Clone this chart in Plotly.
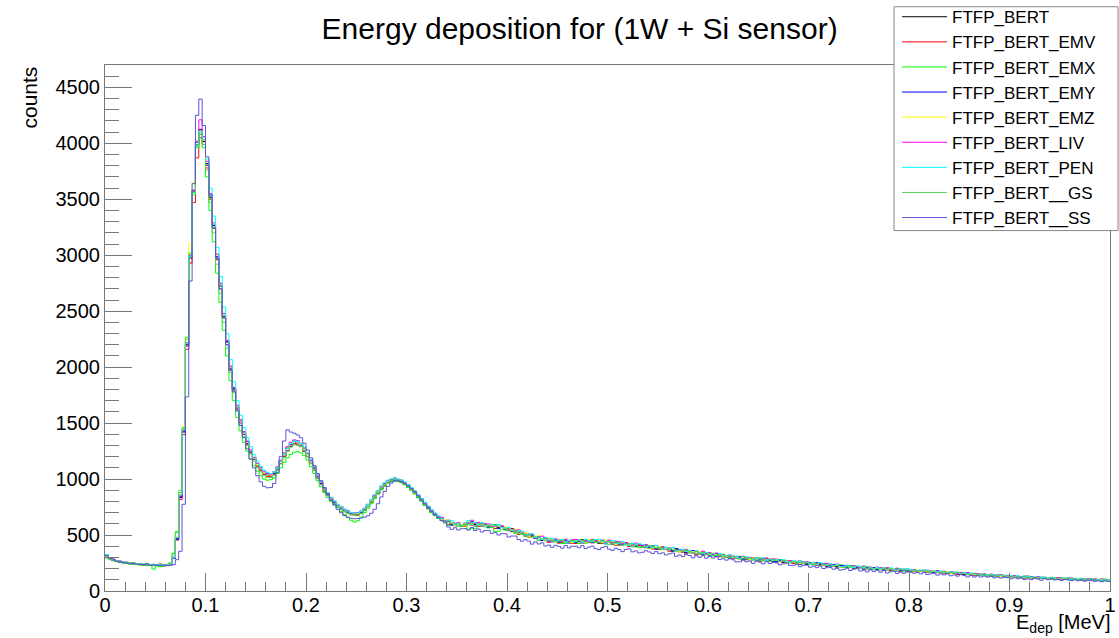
import numpy as np
import plotly.graph_objects as go

# histogram binning: 300 bins between 0 and 1 MeV
N_BINS = 300
E_MIN, E_MAX = 0.0, 1.0

# bin contents, 20 bins per row
FTFP_BERT = [
    316, 287, 284, 264, 266, 253, 257, 242, 251, 240, 246, 233, 243, 231, 238, 229, 240, 225, 236, 241,
    296, 468, 842, 1428, 2205, 2975, 3565, 3985, 4125, 4015, 3805, 3515, 3265, 2975, 2725, 2455, 2225, 1985, 1805, 1635,
    1528, 1398, 1335, 1232, 1192, 1110, 1098, 1041, 1052, 1018, 1062, 1083, 1166, 1202, 1281, 1292, 1341, 1306, 1312, 1249,
    1224, 1138, 1104, 1008, 972, 893, 871, 808, 801, 748, 752, 709, 716, 682, 694, 679, 713, 719, 772, 791,
    852, 869, 931, 939, 988, 979, 1009, 981, 990, 951, 947, 901, 893, 838, 824, 767, 754, 702, 693, 651,
    648, 619, 627, 594, 601, 604, 581, 581, 608, 618, 594, 582, 600, 590, 570, 590, 594, 567, 572, 550,
    558, 558, 526, 508, 523, 502, 508, 494, 469, 488, 459, 470, 442, 455, 459, 437, 446, 429, 450, 455,
    431, 449, 458, 438, 432, 454, 448, 425, 451, 435, 448, 423, 434, 413, 431, 421, 406, 425, 403, 413,
    395, 410, 392, 401, 374, 390, 392, 370, 376, 358, 379, 366, 348, 362, 346, 359, 335, 343, 347, 327,
    339, 322, 333, 308, 317, 318, 294, 308, 297, 309, 286, 280, 294, 297, 279, 285, 272, 291, 274, 281,
    266, 278, 257, 267, 271, 250, 257, 241, 258, 245, 254, 237, 252, 228, 238, 239, 221, 232, 221, 231,
    226, 210, 219, 224, 206, 208, 217, 197, 209, 210, 193, 202, 191, 204, 185, 193, 196, 182, 189, 176,
    179, 188, 172, 181, 186, 169, 175, 165, 178, 165, 172, 157, 169, 162, 152, 165, 151, 159, 149, 154,
    141, 149, 150, 136, 142, 131, 142, 132, 138, 125, 133, 135, 123, 127, 118, 127, 119, 125, 113, 120,
    121, 111, 119, 109, 113, 104, 113, 109, 102, 112, 102, 108, 97, 105, 106, 96, 101, 93, 102, 95,
]
FTFP_BERT_EMV = [
    300, 284, 272, 270, 255, 252, 248, 246, 240, 238, 236, 232, 234, 229, 231, 227, 230, 226, 228, 232,
    290, 455, 818, 1398, 2160, 2930, 3470, 3870, 4050, 3990, 3780, 3500, 3240, 2960, 2700, 2440, 2200, 1975, 1790, 1625,
    1500, 1400, 1310, 1235, 1175, 1115, 1075, 1045, 1025, 1020, 1040, 1085, 1140, 1205, 1255, 1295, 1315, 1310, 1290, 1255,
    1200, 1140, 1080, 1010, 950, 895, 855, 810, 780, 750, 730, 712, 698, 685, 678, 682, 695, 720, 752, 792,
    832, 872, 910, 942, 968, 985, 990, 985, 972, 955, 930, 905, 875, 842, 806, 772, 740, 706, 680, 654,
    649, 629, 592, 606, 583, 601, 589, 579, 608, 589, 607, 579, 590, 598, 577, 585, 558, 562, 580, 563,
    558, 533, 545, 509, 515, 510, 482, 488, 470, 482, 462, 467, 435, 452, 453, 427, 436, 453, 447, 427,
    425, 444, 431, 459, 449, 430, 440, 451, 424, 430, 448, 434, 409, 411, 428, 417, 398, 419, 396, 406,
    401, 387, 398, 375, 381, 371, 383, 372, 355, 353, 370, 350, 355, 332, 349, 340, 324, 341, 324, 333,
    321, 333, 322, 306, 323, 302, 310, 289, 300, 306, 278, 290, 278, 295, 287, 266, 287, 273, 286, 264,
    259, 268, 257, 267, 259, 246, 262, 244, 251, 238, 250, 245, 228, 244, 230, 223, 236, 227, 214, 225,
    226, 211, 218, 203, 216, 210, 195, 215, 195, 208, 194, 203, 182, 193, 183, 199, 190, 176, 193, 177,
    184, 174, 184, 174, 180, 167, 173, 166, 175, 169, 159, 168, 158, 165, 150, 157, 148, 158, 153, 141,
    144, 148, 137, 142, 135, 142, 138, 128, 136, 127, 135, 122, 127, 128, 117, 123, 117, 124, 113, 121,
    121, 113, 119, 108, 119, 103, 110, 114, 99, 111, 102, 112, 96, 104, 95, 109, 102, 90, 105, 93,
]
FTFP_BERT_EMX = [
    296, 280, 270, 262, 255, 250, 246, 242, 238, 236, 230, 235, 226, 228, 196, 222, 218, 224, 230, 248,
    339, 532, 880, 1449, 2268, 3020, 3540, 3960, 4080, 3960, 3700, 3400, 3120, 2840, 2580, 2330, 2100, 1880, 1700, 1550,
    1430, 1330, 1250, 1180, 1120, 1070, 1030, 1000, 990, 995, 1010, 1050, 1100, 1150, 1190, 1220, 1240, 1245, 1235, 1210,
    1170, 1110, 1050, 985, 930, 880, 835, 800, 770, 745, 712, 685, 655, 632, 616, 628, 660, 700, 740, 780,
    825, 868, 905, 938, 965, 980, 985, 980, 968, 950, 925, 898, 866, 832, 800, 765, 732, 700, 672, 648,
    640, 608, 589, 602, 603, 577, 578, 592, 551, 560, 556, 586, 576, 588, 564, 567, 531, 535, 567, 544,
    540, 542, 514, 530, 505, 488, 501, 501, 470, 452, 466, 470, 442, 446, 460, 435, 424, 449, 434, 451,
    437, 424, 452, 456, 437, 445, 432, 434, 453, 421, 439, 420, 439, 418, 407, 423, 408, 420, 396, 387,
    393, 402, 384, 402, 385, 377, 393, 372, 376, 357, 373, 373, 353, 345, 357, 345, 353, 328, 340, 326,
    337, 314, 325, 309, 328, 305, 295, 310, 297, 308, 280, 287, 299, 280, 290, 271, 290, 276, 267, 280,
    266, 277, 264, 254, 267, 260, 247, 262, 246, 241, 253, 240, 246, 229, 244, 231, 223, 234, 223, 232,
    226, 209, 226, 211, 202, 218, 207, 218, 197, 206, 192, 205, 185, 205, 191, 185, 198, 184, 191, 177,
    180, 187, 176, 183, 177, 183, 171, 173, 177, 164, 172, 163, 171, 160, 156, 163, 155, 160, 149, 153,
    153, 140, 153, 140, 133, 146, 136, 144, 127, 136, 127, 138, 123, 126, 133, 116, 127, 115, 122, 114,
    123, 112, 107, 118, 110, 118, 104, 112, 103, 113, 103, 98, 108, 101, 108, 96, 102, 93, 104, 95,
]
FTFP_BERT_EMY = [
    318, 294, 276, 272, 258, 256, 252, 248, 247, 240, 243, 237, 240, 232, 236, 230, 234, 228, 230, 235,
    292, 462, 835, 1420, 2190, 2990, 3580, 4010, 4110, 4030, 3820, 3530, 3270, 2990, 2740, 2470, 2230, 2000, 1810, 1650,
    1520, 1415, 1320, 1250, 1190, 1130, 1090, 1060, 1040, 1035, 1050, 1100, 1160, 1225, 1275, 1310, 1335, 1325, 1300, 1270,
    1220, 1155, 1095, 1025, 960, 910, 860, 825, 790, 765, 740, 725, 705, 695, 688, 692, 700, 730, 758, 805,
    842, 885, 915, 955, 972, 995, 992, 998, 975, 965, 935, 915, 880, 852, 810, 782, 742, 716, 682, 664,
    651, 621, 620, 588, 589, 606, 588, 586, 614, 604, 580, 588, 605, 597, 572, 578, 588, 560, 574, 553,
    540, 536, 548, 522, 523, 494, 492, 501, 470, 480, 451, 471, 449, 439, 451, 437, 460, 451, 428, 437,
    433, 447, 430, 453, 442, 435, 456, 436, 448, 423, 436, 420, 445, 421, 412, 431, 421, 397, 401, 415,
    408, 388, 392, 401, 376, 390, 374, 388, 370, 357, 378, 360, 366, 344, 346, 361, 335, 343, 325, 340,
    323, 329, 310, 327, 312, 316, 296, 297, 310, 303, 280, 293, 283, 299, 277, 280, 291, 268, 281, 265,
    262, 272, 261, 271, 253, 254, 265, 240, 256, 239, 248, 235, 251, 236, 242, 221, 225, 236, 215, 227,
    229, 215, 222, 207, 210, 218, 198, 211, 200, 209, 192, 193, 205, 185, 195, 197, 179, 185, 194, 179,
    178, 183, 174, 182, 169, 182, 172, 166, 178, 163, 170, 157, 170, 159, 165, 148, 152, 161, 144, 153,
    144, 150, 137, 143, 135, 144, 134, 139, 126, 128, 136, 123, 130, 119, 131, 120, 126, 112, 114, 123,
    118, 111, 118, 110, 115, 105, 106, 114, 103, 109, 99, 109, 102, 98, 107, 98, 102, 92, 102, 92,
]
FTFP_BERT_EMZ = [
    305, 288, 282, 266, 264, 254, 255, 245, 248, 238, 244, 236, 238, 233, 235, 230, 236, 229, 232, 240,
    305, 490, 870, 1475, 2240, 3100, 3650, 4020, 4110, 4030, 3830, 3540, 3280, 3000, 2740, 2470, 2240, 2000, 1820, 1650,
    1525, 1420, 1330, 1255, 1190, 1130, 1095, 1060, 1045, 1035, 1060, 1105, 1165, 1230, 1280, 1320, 1340, 1330, 1305, 1270,
    1220, 1160, 1100, 1030, 970, 912, 870, 830, 800, 768, 748, 728, 712, 700, 690, 694, 710, 735, 770, 808,
    850, 890, 928, 958, 985, 1000, 1005, 998, 985, 965, 945, 915, 888, 850, 818, 780, 752, 715, 690, 662,
    636, 635, 633, 604, 587, 603, 596, 581, 617, 600, 612, 588, 598, 578, 596, 587, 571, 589, 567, 572,
    564, 541, 551, 517, 520, 520, 490, 476, 489, 494, 465, 451, 468, 456, 437, 458, 463, 439, 449, 434,
    449, 459, 438, 431, 457, 445, 459, 451, 432, 455, 430, 444, 418, 432, 435, 412, 420, 401, 419, 421,
    414, 397, 409, 385, 394, 396, 372, 387, 375, 386, 362, 354, 366, 368, 348, 352, 338, 355, 337, 343,
    326, 341, 322, 330, 303, 318, 320, 297, 304, 287, 309, 298, 282, 297, 283, 298, 275, 285, 290, 271,
    279, 262, 271, 275, 256, 257, 266, 245, 257, 258, 240, 249, 237, 250, 229, 236, 238, 223, 230, 215,
    217, 230, 209, 220, 225, 205, 212, 197, 214, 201, 211, 194, 210, 186, 198, 200, 183, 195, 184, 196,
    190, 179, 188, 177, 181, 171, 179, 175, 167, 176, 166, 171, 159, 166, 166, 155, 159, 150, 157, 149,
    144, 153, 136, 145, 150, 133, 139, 129, 142, 129, 136, 121, 134, 127, 118, 131, 118, 126, 117, 123,
    111, 120, 121, 108, 114, 104, 116, 106, 113, 101, 109, 112, 100, 105, 96, 106, 98, 105, 94, 101,
]
FTFP_BERT_LIV = [
    322, 296, 285, 272, 266, 258, 254, 250, 246, 244, 240, 240, 236, 236, 232, 234, 230, 232, 228, 236,
    302, 478, 850, 1440, 2220, 3000, 3580, 4020, 4210, 4060, 3840, 3550, 3290, 3010, 2750, 2480, 2240, 2010, 1820, 1660,
    1530, 1425, 1340, 1260, 1195, 1140, 1100, 1070, 1050, 1045, 1065, 1110, 1170, 1235, 1290, 1330, 1350, 1345, 1320, 1280,
    1230, 1165, 1105, 1035, 975, 918, 875, 835, 800, 770, 750, 730, 712, 700, 698, 702, 712, 740, 775, 815,
    855, 895, 930, 962, 985, 998, 1002, 996, 985, 968, 948, 918, 890, 856, 820, 785, 755, 722, 692, 668,
    658, 627, 633, 601, 607, 608, 584, 606, 604, 632, 604, 613, 579, 600, 599, 575, 578, 595, 581, 556,
    548, 554, 533, 546, 529, 497, 504, 504, 474, 475, 490, 472, 446, 448, 466, 455, 440, 463, 442, 456,
    460, 456, 435, 452, 442, 462, 454, 435, 456, 436, 455, 426, 440, 443, 424, 433, 405, 410, 428, 416,
    402, 414, 404, 389, 406, 386, 394, 374, 384, 389, 360, 370, 356, 372, 362, 339, 359, 343, 355, 332,
    342, 328, 339, 314, 321, 309, 321, 312, 293, 294, 311, 294, 300, 280, 298, 291, 276, 295, 278, 288,
    285, 269, 276, 260, 272, 265, 250, 269, 249, 262, 247, 256, 234, 245, 233, 248, 238, 223, 240, 222,
    216, 226, 215, 226, 219, 207, 223, 206, 213, 200, 213, 208, 192, 208, 196, 190, 204, 196, 183, 196,
    185, 189, 179, 184, 177, 184, 180, 170, 178, 169, 177, 164, 168, 169, 157, 163, 156, 163, 151, 158,
    155, 146, 152, 140, 151, 134, 140, 144, 128, 139, 130, 139, 123, 130, 121, 134, 127, 114, 128, 116,
    121, 112, 121, 112, 118, 106, 113, 106, 116, 111, 101, 111, 102, 110, 96, 104, 96, 107, 104, 93,
]
FTFP_BERT_PEN = [
    326, 298, 280, 270, 264, 258, 256, 250, 248, 244, 242, 240, 240, 236, 238, 232, 236, 230, 234, 240,
    295, 475, 860, 1445, 2215, 2990, 3560, 3980, 4110, 4050, 3860, 3600, 3350, 3070, 2810, 2540, 2300, 2070, 1870, 1700,
    1570, 1460, 1370, 1290, 1220, 1160, 1115, 1080, 1060, 1050, 1065, 1105, 1160, 1220, 1275, 1315, 1340, 1338, 1318, 1285,
    1235, 1175, 1115, 1045, 985, 925, 880, 838, 805, 775, 752, 732, 715, 702, 695, 698, 710, 738, 772, 818,
    860, 900, 938, 968, 990, 1002, 1008, 1000, 990, 975, 950, 925, 895, 862, 828, 795, 760, 728, 698, 672,
    647, 621, 630, 628, 597, 603, 586, 606, 629, 593, 611, 590, 611, 590, 581, 597, 584, 594, 568, 557,
    571, 545, 527, 538, 535, 504, 500, 513, 477, 483, 460, 476, 457, 471, 446, 451, 461, 438, 455, 442,
    440, 455, 436, 461, 449, 440, 460, 464, 441, 426, 445, 450, 425, 430, 442, 416, 406, 426, 411, 423,
    415, 392, 404, 389, 408, 386, 376, 392, 378, 388, 359, 364, 374, 354, 362, 341, 359, 343, 333, 345,
    327, 336, 317, 334, 317, 308, 324, 302, 307, 289, 306, 308, 290, 283, 297, 287, 296, 273, 286, 273,
    282, 264, 281, 265, 255, 270, 259, 269, 248, 257, 242, 255, 234, 254, 238, 231, 243, 228, 235, 219,
    220, 232, 219, 210, 224, 218, 205, 221, 205, 200, 213, 200, 207, 190, 207, 195, 188, 200, 189, 200,
    194, 182, 178, 188, 180, 187, 172, 180, 170, 179, 169, 163, 172, 164, 170, 157, 162, 152, 161, 151,
    146, 153, 141, 148, 142, 148, 136, 138, 142, 129, 137, 128, 137, 126, 123, 130, 123, 128, 118, 123,
    122, 110, 123, 111, 104, 118, 109, 117, 101, 111, 102, 114, 99, 103, 110, 94, 105, 94, 102, 94,
]
FTFP_BERT__GS = [
    300, 286, 274, 268, 260, 256, 252, 248, 244, 240, 242, 236, 234, 236, 230, 228, 232, 230, 236, 252,
    330, 520, 900, 1460, 2250, 3010, 3560, 3970, 4090, 3990, 3760, 3470, 3200, 2920, 2660, 2400, 2170, 1950, 1770, 1610,
    1480, 1380, 1300, 1225, 1160, 1105, 1065, 1035, 1015, 1015, 1035, 1080, 1135, 1195, 1245, 1285, 1305, 1305, 1290, 1255,
    1205, 1140, 1080, 1010, 950, 895, 850, 812, 782, 752, 730, 710, 695, 682, 676, 680, 694, 720, 755, 795,
    838, 878, 915, 948, 972, 988, 994, 988, 976, 958, 935, 908, 878, 845, 810, 775, 744, 712, 684, 658,
    627, 616, 626, 600, 605, 579, 584, 607, 590, 605, 579, 601, 582, 572, 585, 569, 592, 580, 554, 555,
    543, 547, 519, 531, 509, 493, 506, 480, 486, 457, 466, 447, 470, 445, 437, 457, 448, 426, 433, 450,
    450, 436, 448, 426, 434, 457, 440, 430, 450, 439, 414, 423, 441, 432, 407, 413, 423, 396, 412, 395,
    393, 399, 381, 399, 384, 389, 369, 371, 383, 375, 351, 362, 350, 365, 341, 342, 352, 327, 339, 322,
    334, 314, 317, 325, 300, 313, 297, 310, 293, 281, 303, 287, 295, 274, 278, 295, 270, 280, 263, 279,
    278, 263, 270, 254, 256, 263, 243, 255, 244, 253, 235, 236, 247, 227, 235, 236, 217, 222, 231, 214,
    209, 220, 209, 220, 203, 205, 216, 192, 208, 191, 201, 188, 205, 190, 198, 178, 183, 195, 174, 188,
    179, 185, 173, 179, 171, 180, 170, 175, 162, 164, 172, 159, 165, 154, 165, 154, 159, 145, 146, 154,
    148, 140, 147, 138, 143, 132, 132, 140, 128, 133, 123, 132, 125, 120, 129, 119, 123, 112, 121, 111,
    110, 116, 106, 115, 102, 116, 107, 101, 114, 100, 107, 95, 109, 99, 106, 90, 95, 105, 90, 100,
]
FTFP_BERT__SS = [
    315, 292, 278, 266, 260, 256, 250, 246, 244, 240, 238, 236, 234, 232, 232, 230, 228, 230, 226, 228,
    235, 280, 355, 775, 1735, 2770, 3640, 4250, 4395, 4160, 3880, 3540, 3250, 2970, 2700, 2440, 2200, 1970, 1780, 1610,
    1480, 1370, 1270, 1180, 1100, 1030, 975, 935, 922, 925, 960, 1060, 1200, 1340, 1440, 1420, 1410, 1395, 1370, 1320,
    1260, 1190, 1120, 1050, 985, 925, 870, 815, 770, 730, 700, 675, 660, 650, 645, 648, 652, 660, 672, 695,
    730, 780, 840, 890, 935, 965, 982, 985, 978, 962, 940, 915, 885, 850, 815, 780, 745, 712, 682, 655,
    630, 614, 572, 550, 565, 545, 557, 558, 545, 567, 541, 554, 527, 540, 541, 515, 522, 500, 513, 511,
    482, 491, 491, 460, 445, 459, 446, 419, 439, 420, 430, 402, 410, 390, 408, 399, 383, 407, 385, 400,
    400, 386, 405, 380, 392, 400, 378, 370, 389, 399, 374, 363, 382, 371, 352, 372, 376, 350, 358, 340,
    346, 360, 349, 335, 352, 333, 341, 322, 332, 339, 310, 322, 308, 325, 317, 296, 315, 301, 314, 293,
    309, 295, 306, 281, 288, 276, 288, 279, 260, 261, 278, 261, 267, 247, 265, 258, 243, 262, 245, 255,
    251, 234, 243, 247, 228, 229, 238, 217, 229, 230, 212, 221, 209, 222, 201, 208, 210, 195, 202, 187,
    191, 204, 183, 194, 199, 179, 186, 171, 188, 175, 185, 168, 184, 160, 172, 174, 157, 169, 158, 170,
    168, 159, 166, 154, 165, 148, 154, 158, 142, 153, 144, 153, 136, 143, 133, 146, 138, 125, 138, 125,
    135, 125, 134, 124, 130, 117, 123, 116, 125, 119, 109, 118, 109, 116, 102, 109, 101, 111, 107, 96,
    111, 101, 109, 99, 103, 94, 103, 99, 92, 102, 92, 98, 87, 95, 96, 86, 91, 83, 92, 85,
]

SERIES = [
    ("FTFP_BERT", FTFP_BERT, "#000000"),
    ("FTFP_BERT_EMV", FTFP_BERT_EMV, "#ff0000"),
    ("FTFP_BERT_EMX", FTFP_BERT_EMX, "#00ff00"),
    ("FTFP_BERT_EMY", FTFP_BERT_EMY, "#0000ff"),
    ("FTFP_BERT_EMZ", FTFP_BERT_EMZ, "#ffff00"),
    ("FTFP_BERT_LIV", FTFP_BERT_LIV, "#ff00ff"),
    ("FTFP_BERT_PEN", FTFP_BERT_PEN, "#00ffff"),
    ("FTFP_BERT__GS", FTFP_BERT__GS, "#59d454"),
    ("FTFP_BERT__SS", FTFP_BERT__SS, "#5954d8"),
]

AXIS_COLOR = "#777777"
FONT = "Liberation Sans, Arial, Helvetica, sans-serif"


def step_xy(counts):
    # histogram outline: left edge of every bin, plus the last upper edge
    edges = np.linspace(E_MIN, E_MAX, N_BINS + 1)
    x = edges[:len(counts) + 1]
    y = list(counts) + [counts[-1]]
    return x, y


fig = go.Figure()
for name, counts, color in SERIES:
    x, y = step_xy(counts)
    fig.add_trace(go.Scatter(
        x=x, y=y, mode="lines", name=name,
        line=dict(color=color, width=1, shape="hv"),
    ))

# legend frame (drawn as a shape so it covers the plot frame like ROOT's TLegend)
fig.add_shape(type="rect", xref="paper", yref="paper",
              x0=0.7851, x1=1.008, y0=0.6852, y1=1.1108,
              fillcolor="white", line=dict(color="#888888", width=1), layer="above")

fig.add_annotation(text="counts", textangle=-90, xref="paper", yref="paper",
                   x=-0.0761, xanchor="center", y=1.0, yanchor="top",
                   showarrow=False, font=dict(size=21, color="black", family=FONT))
fig.add_annotation(text="E<sub>dep</sub> [MeV]", xref="paper", yref="paper",
                   x=1.003, xanchor="right", y=-0.035, yanchor="top",
                   showarrow=False, font=dict(size=20, color="black", family=FONT))

fig.update_layout(
    width=1119, height=638,
    # fixed frame: the legend sits above the plot and must not push the margins
    margin=dict(l=105, r=9, t=65, b=47, autoexpand=False),
    paper_bgcolor="white", plot_bgcolor="white",
    font=dict(family=FONT, color="black"),
    title=dict(text="Energy deposition for (1W + Si sensor)", x=0.518, xanchor="center",
               y=1 - 28 / 638, yanchor="middle", font=dict(size=30, color="black")),
    showlegend=True,
    legend=dict(x=0.7881, xanchor="left", y=1.1251, yanchor="top",
                bgcolor="rgba(0,0,0,0)", borderwidth=0, font=dict(size=17),
                itemwidth=45),
)
fig.update_xaxes(
    range=[E_MIN, E_MAX], tick0=0, dtick=0.1,
    ticks="inside", ticklen=18, tickcolor=AXIS_COLOR, tickwidth=1,
    minor=dict(dtick=0.02, ticks="inside", ticklen=9, tickcolor=AXIS_COLOR),
    showline=True, linecolor=AXIS_COLOR, linewidth=1, mirror=True,
    showgrid=False, zeroline=False, tickfont=dict(size=20), ticklabelstandoff=-4,
)
fig.update_yaxes(
    range=[0, 4700], tick0=0, dtick=500,
    ticks="inside", ticklen=27, tickcolor=AXIS_COLOR, tickwidth=1,
    minor=dict(dtick=100, ticks="inside", ticklen=14, tickcolor=AXIS_COLOR),
    showline=True, linecolor=AXIS_COLOR, linewidth=1, mirror=True,
    showgrid=False, zeroline=False, tickfont=dict(size=20),
)

# the page body would otherwise add an 8px browser margin around the figure
fig.write_html("out.html", config={"displayModeBar": False},
               post_script="document.body.style.margin = '0';")
